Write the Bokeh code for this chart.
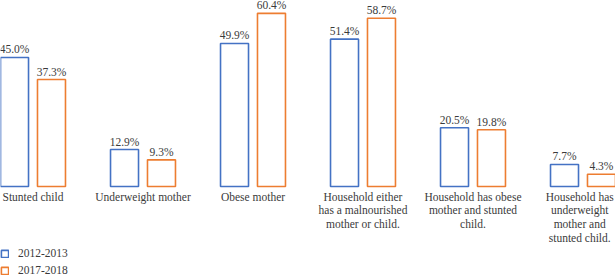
from bokeh.plotting import figure
from bokeh.models import Range1d, ColumnDataSource, Legend, LegendItem
from bokeh.core.properties import value
from bokeh.embed import file_html
from bokeh.resources import INLINE

categories = ["Stunted child", "Underweight mother", "Obese mother",
              "Household either\nhas a malnourished\nmother or child.",
              "Household has obese\nmother and stunted\nchild.",
              "Household has\nunderweight\nmother and\nstunted child."]
series_names = ["2012-2013", "2017-2018"]
v2012 = [45.0, 12.9, 49.9, 51.4, 20.5, 7.7]
v2017 = [37.3, 9.3, 60.4, 58.7, 19.8, 4.3]
colors = ["#4472C4", "#ED7D31"]

FONT = "Liberation Serif"
TXT = "#3b3b3b"

p = figure(width=615, height=276, output_backend="svg", toolbar_location=None,
           x_range=Range1d(-0.2955, 5.2955), y_range=Range1d(-31.39, 64.88),
           min_border=0, min_border_left=0, min_border_right=0,
           min_border_top=0, min_border_bottom=0)
p.xaxis.visible = False
p.yaxis.visible = False
p.grid.visible = False
p.outline_line_color = None
p.background_fill_color = "white"
p.border_fill_color = "white"

xs = list(range(len(categories)))
off = 0.168
w = 0.2545
renderers = []
for vals, col, d in [(v2012, colors[0], -off), (v2017, colors[1], off)]:
    src = ColumnDataSource(dict(x=[x + d for x in xs], top=vals,
                                lab=[f"{v:.1f}%" for v in vals]))
    r = p.vbar(x="x", top="top", bottom=0, width=w, source=src,
               fill_color="white", line_color=col, line_width=1.6)
    renderers.append(r)
    p.text(x="x", y="top", text="lab", source=src, text_align="center",
           text_baseline="alphabetic", y_offset=-8, text_font=value(FONT),
           text_font_size="11.5px", text_color=TXT)

# last label nudged left slightly so it stays inside the canvas
lx = [x for x in xs]
lx[-1] = xs[-1] - 0.03
csrc = ColumnDataSource(dict(x=lx, y=[-1.4] * len(xs), t=categories))
p.text(x="x", y="y", text="t", source=csrc, text_align="center",
       text_baseline="top", text_font=value(FONT), text_font_size="11.5px",
       text_color=TXT, text_line_height=1.15)

legend = Legend(items=[LegendItem(label=series_names[i], renderers=[renderers[i]])
                       for i in range(2)],
                location=(0, 0), orientation="vertical",
                glyph_width=9, glyph_height=9, label_height=9, spacing=5,
                label_standoff=9, padding=0, margin=0,
                border_line_color=None, background_fill_alpha=0,
                label_text_font=FONT, label_text_font_size="11.5px",
                label_text_color=TXT)
p.add_layout(legend)

open("out.html", "w").write(file_html(p, INLINE))
